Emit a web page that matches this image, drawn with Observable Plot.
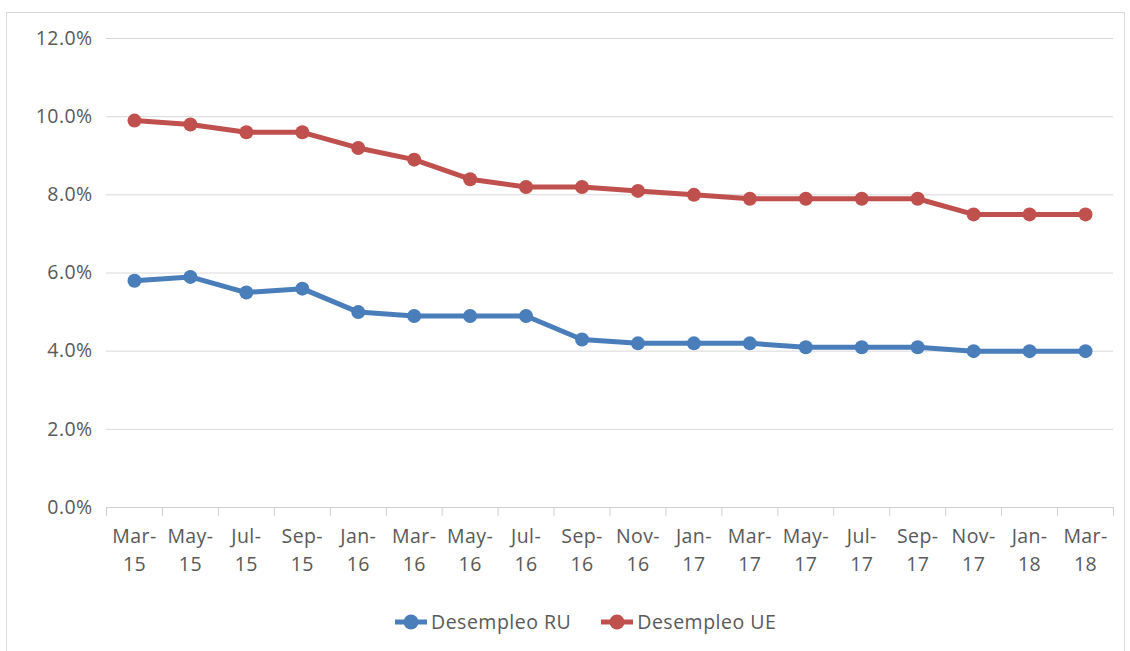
<!DOCTYPE html>
<html>
<head>
<meta charset="utf-8">
<script src="https://cdn.jsdelivr.net/npm/d3@7"></script>
<script src="https://cdn.jsdelivr.net/npm/@observablehq/plot@0.6"></script>
<style>
  body { margin: 0; background: #ffffff; font-family: "Open Sans", sans-serif; }
  #frame { position: absolute; left: 6px; top: 12px; width: 1119px; height: 650px;
           border: 1px solid #d9d9d9; box-sizing: border-box; }
  #chart { position: absolute; left: 0; top: 0; }
  #legend { position: absolute; left: 395px; top: 608px; display: flex; align-items: center;
            font-size: 19.5px; letter-spacing: 0.5px; color: #595959; }
  .item { display: flex; align-items: center; margin-right: 30px; }
  .item svg { margin-right: 4px; }
</style>
</head>
<body>
<div id="frame"></div>
<div id="chart"></div>
<div id="legend"></div>
<script>
// Periods (two-line labels) and unemployment rates in percent
const categories = [
  "Mar-\n15", "May-\n15", "Jul-\n15", "Sep-\n15", "Jan-\n16", "Mar-\n16",
  "May-\n16", "Jul-\n16", "Sep-\n16", "Nov-\n16", "Jan-\n17", "Mar-\n17",
  "May-\n17", "Jul-\n17", "Sep-\n17", "Nov-\n17", "Jan-\n18", "Mar-\n18"
];
const desempleoRU = [5.8, 5.9, 5.5, 5.6, 5.0, 4.9, 4.9, 4.9, 4.3, 4.2, 4.2, 4.2, 4.1, 4.1, 4.1, 4.0, 4.0, 4.0];
const desempleoUE = [9.9, 9.8, 9.6, 9.6, 9.2, 8.9, 8.4, 8.2, 8.2, 8.1, 8.0, 7.9, 7.9, 7.9, 7.9, 7.5, 7.5, 7.5];
const yTicks = [0, 2, 4, 6, 8, 10, 12];

const seriesNames = ["Desempleo RU", "Desempleo UE"];
const seriesColors = ["#4a7ebb", "#c0504d"];
const seriesValues = [desempleoRU, desempleoUE];

// Long table: one row per period and series
const rows = seriesNames.flatMap((name, s) =>
  seriesValues[s].map((v, i) => ({series: name, i, value: v}))
);

const idx = categories.map((_, i) => i);
// Category boundaries, where the axis tick marks sit
const bounds = [-0.5, ...idx.map(i => i + 0.5)];

const chart = Plot.plot({
  width: 1130,
  height: 590,
  marginLeft: 106,
  marginRight: 17,
  marginTop: 38,
  marginBottom: 83,
  style: {fontFamily: "'Open Sans', sans-serif", fontSize: "19.5px", color: "#595959", letterSpacing: "0.4px", background: "transparent"},
  x: {type: "linear", domain: [-0.5, categories.length - 0.5]},
  y: {domain: [0, 12]},
  color: {domain: seriesNames, range: seriesColors},
  marks: [
    Plot.gridY(yTicks, {stroke: "#d9d9d9", strokeOpacity: 1}),
    Plot.ruleY([0], {stroke: "#cfcfcf"}),
    Plot.axisX({ticks: bounds, tickSize: 9, tickFormat: () => "", stroke: "#cfcfcf", strokeOpacity: 1, label: null}),
    Plot.axisX({ticks: idx, tickFormat: i => categories[i], tickSize: 0, tickPadding: 15, lineHeight: 1.45, label: null}),
    Plot.axisY({ticks: yTicks, tickFormat: d => d.toFixed(1) + "%", tickSize: 0, tickPadding: 14, label: null}),
    Plot.line(rows, {x: "i", y: "value", z: "series", stroke: "series", strokeWidth: 5, strokeLinejoin: "round"}),
    Plot.dot(rows, {x: "i", y: "value", fill: "series", r: 7})
  ]
});
document.getElementById("chart").appendChild(chart);

// Legend: a short line with a marker, then the series name
const legend = d3.select("#legend");
seriesNames.forEach((name, s) => {
  const item = legend.append("div").attr("class", "item");
  const sw = item.append("svg").attr("width", 32).attr("height", 18);
  sw.append("line").attr("x1", 0).attr("x2", 32).attr("y1", 9).attr("y2", 9)
    .attr("stroke", seriesColors[s]).attr("stroke-width", 5);
  sw.append("circle").attr("cx", 16).attr("cy", 9).attr("r", 7.5).attr("fill", seriesColors[s]);
  item.append("span").text(name);
});
</script>
</body>
</html>
